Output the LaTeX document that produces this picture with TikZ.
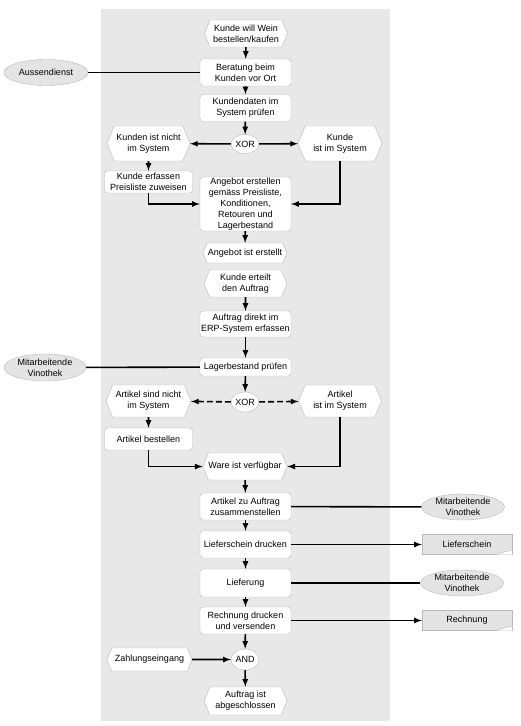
\documentclass[tikz,border=0pt]{standalone}
\usepackage{fontspec}
\setmainfont{Liberation Sans}
\usetikzlibrary{shapes.geometric,shapes.symbols}
\definecolor{bggrey}{HTML}{E8E8E8}
\definecolor{edgegrey}{HTML}{B8B8B8}
\definecolor{orggrey}{HTML}{E4E4E4}

\begin{document}
\begin{tikzpicture}[x=1pt,y=-1pt,
  every node/.style={font=\fontsize{9}{11}\selectfont,align=center,inner sep=0pt},
  event/.style={signal,signal to=west and east,signal pointer angle=135,draw=edgegrey,fill=white,minimum width=83pt,minimum height=27pt},
  func/.style={rectangle,rounded corners=3pt,draw=edgegrey,fill=white,minimum width=91pt,minimum height=27pt},
  orgunit/.style={ellipse,draw=edgegrey,fill=orggrey,minimum width=83pt,minimum height=26pt},
  gate/.style={ellipse,draw=edgegrey,fill=white,minimum width=28pt,minimum height=19pt},
  docu/.style={rectangle,draw=edgegrey,fill=orggrey,minimum width=90pt,minimum height=20pt},
  flow/.style={->,>=latex,line width=1.6pt},
  link/.style={line width=1.6pt},
  dashflow/.style={flow,dash pattern=on 6pt off 3pt}]
  \useasboundingbox (0,0) rectangle (520,726);
  \fill[bggrey] (101,9) rectangle (390,721);

  % customer and offer
  \node[event] (start) at (246,33.5) {Kunde will Wein\\bestellen/kaufen};
  \node[func] (beratung) at (245.5,72.5) {Beratung beim\\Kunden vor Ort};
  \node[orgunit,minimum width=84pt] (aussen) at (46,72.5) {Aussendienst};
  \node[func] (pruefen) at (245.5,108) {Kundendaten im\\System pr\"ufen};
  \node[gate] (xorA) at (245,144) {XOR};
  \node[event,minimum height=35pt] (kdnicht) at (148.5,143.5) {Kunden ist nicht\\im System};
  \node[event,minimum width=84pt,minimum height=35pt] (kdim) at (340,143.5) {Kunde\\ist im System};
  \node[func,minimum width=88pt,minimum height=22pt] (erfassen) at (148.5,182) {Kunde erfassen\\Preisliste zuweisen};
  \node[func,minimum height=54pt] (angebot) at (245.5,204) {Angebot erstellen\\gem\"ass Preisliste,\\Konditionen,\\Retouren und\\Lagerbestand};
  \node[event,minimum width=84pt,minimum height=20pt] (angerstellt) at (245,253) {Angebot ist erstellt};

  % order
  \node[event] (erteilt) at (245.5,283.5) {Kunde erteilt\\den Auftrag};
  \node[func,minimum height=26pt] (erp) at (245.5,324) {Auftrag direkt im\\ERP-System erfassen};
  \node[func,minimum height=18pt] (lager) at (245.5,367) {Lagerbestand pr\"ufen};
  \node[orgunit,minimum width=82pt,minimum height=27pt] (vinoA) at (45,367.5) {Mitarbeitende\\Vinothek};
  \node[gate,minimum height=20pt] (xorB) at (245,402) {XOR};
  \node[event,minimum width=85pt,minimum height=32pt] (artnicht) at (148.5,401) {Artikel sind nicht\\im System};
  \node[event,minimum height=32pt] (artim) at (340,401) {Artikel\\ist im System};
  \node[func,minimum width=88pt,minimum height=22pt] (bestellen) at (148.5,439) {Artikel bestellen};
  \node[event,minimum width=84pt] (ware) at (245,466.5) {Ware ist verf\"ugbar};

  % delivery and invoice
  \node[func] (zusammen) at (245.5,506.5) {Artikel zu Auftrag\\zusammenstellen};
  \node[orgunit] (vinoB) at (463,507) {Mitarbeitende\\Vinothek};
  \node[func] (drucken) at (245.5,544.5) {Lieferschein drucken};
  \node[docu] (lschein) at (467,544.5) {Lieferschein};
  \node[func,minimum height=28pt] (lieferung) at (245.5,583) {Lieferung};
  \node[orgunit] (vinoC) at (462,583) {Mitarbeitende\\Vinothek};
  \node[func] (rechnung) at (245.5,620.5) {Rechnung drucken\\und versenden};
  \node[docu] (rdoc) at (467,620.5) {Rechnung};
  \node[event,minimum width=85pt,minimum height=23pt] (zahlung) at (149.5,659.5) {Zahlungseingang};
  \node[gate,minimum height=21pt] (andg) at (245,659.5) {AND};
  \node[event,minimum height=28pt] (ende) at (245.5,701) {Auftrag ist\\abgeschlossen};

  % curled corner of the documents
  \foreach \d in {lschein,rdoc}{
  \fill[white] ([xshift=-16pt]\d.south east) .. controls ([xshift=-8pt,yshift=3pt]\d.south east) and ([xshift=-5pt,yshift=4pt]\d.south east) .. ([yshift=4pt]\d.south east) -- (\d.south east) -- cycle;
  \draw[edgegrey] ([xshift=-16pt]\d.south east) .. controls ([xshift=-8pt,yshift=3pt]\d.south east) and ([xshift=-5pt,yshift=4pt]\d.south east) .. ([yshift=4pt]\d.south east);
  }

  % connectors
  \draw[flow] (start) -- (beratung);
  \draw[flow] (beratung) -- (pruefen);
  \draw[link] (aussen) -- (beratung);
  \draw[flow] (pruefen) -- (xorA);
  \draw[flow] (xorA) -- (kdnicht);
  \draw[flow] (xorA) -- (kdim);
  \draw[flow] (kdnicht) -- (erfassen);
  \draw[flow] (erfassen.south) |- (angebot.west);
  \draw[flow] (kdim.south) |- (angebot.east);
  \draw[flow] (angebot) -- (angerstellt);
  \draw[flow] (erteilt) -- (erp);
  \draw[flow] (erp) -- (lager);
  \draw[link] (vinoA) -- (lager);
  \draw[flow] (lager) -- (xorB);
  \draw[dashflow] (xorB) -- (artnicht);
  \draw[dashflow] (xorB) -- (artim);
  \draw[flow] (artnicht) -- (bestellen);
  \draw[flow] (bestellen.south) |- (ware.west);
  \draw[flow] (artim.south) |- (ware.east);
  \draw[flow] (ware) -- (zusammen);
  \draw[link] (zusammen) -- (vinoB);
  \draw[flow] (zusammen) -- (drucken);
  \draw[flow] (drucken) -- (lschein);
  \draw[flow] (drucken) -- (lieferung);
  \draw[link] (lieferung) -- (vinoC);
  \draw[flow] (lieferung) -- (rechnung);
  \draw[flow] (rechnung) -- (rdoc);
  \draw[flow] (rechnung) -- (andg);
  \draw[flow] (zahlung) -- (andg);
  \draw[flow] (andg) -- (ende);
\end{tikzpicture}
\end{document}
